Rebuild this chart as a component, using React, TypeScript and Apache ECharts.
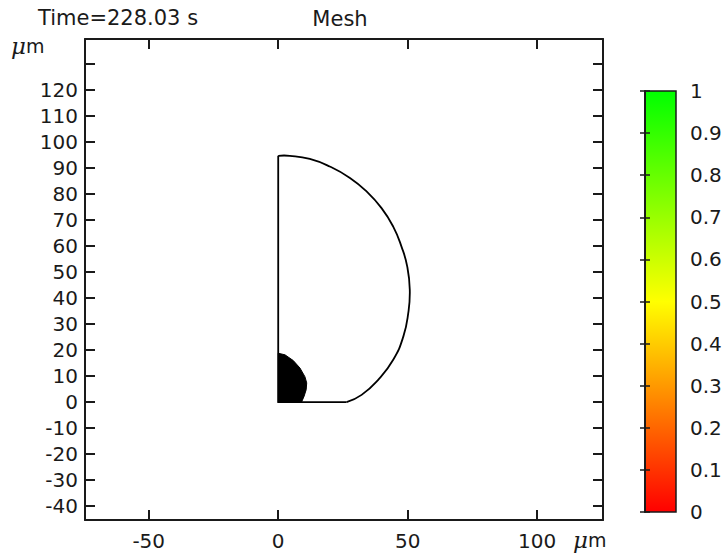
import React, { useEffect, useRef } from "react";
import * as echarts from "echarts";

// Axis ticks and labels
const xTicks = [-50, 0, 50, 100];
const yTicks = [-40, -30, -20, -10, 0, 10, 20, 30, 40, 50, 60, 70, 80, 90, 100, 110, 120, 130];
const yLabels = [-40, -30, -20, -10, 0, 10, 20, 30, 40, 50, 60, 70, 80, 90, 100, 110, 120];
const xRange = [-74.6, 125.4];
const yRange = [-45.3, 139.6];

// Outer domain: arc from bottom-right corner up to top of symmetry axis
const arcX = [26.4, 32.2, 38.6, 44.4, 48.3, 50.2, 50.8, 49.8, 47.6, 44.4, 39.9, 34.1, 27.7, 19.9, 12.2, 4.5, 0];
const arcY = [0, 2.8, 8.6, 16.3, 25.2, 34.2, 43.2, 52.2, 59.8, 67.5, 74.6, 81.0, 86.2, 90.6, 93.5, 94.7, 94.7];
// Straight edges: top of axis -> origin -> bottom-right corner
const edgeX = [0, 0, 26.4];
const edgeY = [94.7, 0, 0];

// Droplet (filled)
const dropX = [0, 0, 2.6, 5.8, 8.4, 10.3, 11.0, 10.8, 10.0, 9.0];
const dropY = [0, 18.8, 18.2, 16.0, 13.1, 9.8, 7.4, 4.8, 2.3, 0];

// Colour bar
const cbarMin = 0;
const cbarMax = 1;
const cbarStops = [
  { offset: 0, color: "#00ff00" },
  { offset: 0.5, color: "#ffff00" },
  { offset: 1, color: "#ff0000" },
];

const titleLeft = "Time=228.03 s";
const titleCenter = "Mesh";

const FONT = "DejaVu Sans";
const INK = "#1a1a1a";

export default function App() {
  const ref = useRef<HTMLDivElement>(null);

  useEffect(() => {
    if (!ref.current) return;
    const chart = echarts.init(ref.current, null, { renderer: "svg" });

    const pts = (xs: number[], ys: number[], api: any) =>
      xs.map((x, i) => api.coord([x, ys[i]]));

    const mainAxisCommon = {
      type: "value",
      splitLine: { show: false },
      axisLine: { show: true, onZero: false, lineStyle: { color: INK, width: 2 } },
    };

    const unitStyle = {
      text: "{a|\u03bc}{b|m}", verticalAlign: "middle",
      rich: {
        a: { fontSize: 23, fontStyle: "italic", fontFamily: "DejaVu Serif", fill: INK, color: INK },
        b: { fontSize: 19, fontFamily: FONT, fill: INK, color: INK },
      },
    };

    const option: any = {
      animation: false,
      backgroundColor: "#ffffff",
      grid: [
        { left: 85, top: 39, width: 518, height: 481, containLabel: false },
        {
          left: 645, top: 91, width: 31, height: 421, show: true,
          backgroundColor: new echarts.graphic.LinearGradient(0, 0, 0, 1, cbarStops),
          borderColor: INK, borderWidth: 1.5,
        },
      ],
      xAxis: [
        {
          ...mainAxisCommon, gridIndex: 0, position: "bottom",
          min: xRange[0], max: xRange[1],
          axisTick: { show: true, inside: true, length: 10, customValues: xTicks, lineStyle: { color: INK, width: 2 } },
          axisLabel: { show: true, customValues: xTicks, margin: 11, fontSize: 20, fontFamily: FONT, color: INK },
        },
        {
          ...mainAxisCommon, gridIndex: 0, position: "top",
          min: xRange[0], max: xRange[1],
          axisTick: { show: true, inside: true, length: 10, customValues: xTicks, lineStyle: { color: INK, width: 2 } },
          axisLabel: { show: false },
        },
        { type: "value", gridIndex: 1, min: 0, max: 1, show: false },
      ],
      yAxis: [
        {
          ...mainAxisCommon, gridIndex: 0, position: "left",
          min: yRange[0], max: yRange[1],
          axisTick: { show: true, inside: true, length: 10, customValues: yTicks, lineStyle: { color: INK, width: 2 } },
          axisLabel: { show: true, customValues: yLabels, margin: 7, fontSize: 20, fontFamily: FONT, color: INK },
        },
        {
          ...mainAxisCommon, gridIndex: 0, position: "right",
          min: yRange[0], max: yRange[1],
          axisTick: { show: true, inside: true, length: 10, customValues: yTicks, lineStyle: { color: INK, width: 2 } },
          axisLabel: { show: false },
        },
        {
          type: "value", gridIndex: 1, position: "right",
          min: cbarMin, max: cbarMax, interval: 0.1,
          splitLine: { show: false },
          axisLine: { show: true, lineStyle: { color: INK, width: 1.5 } },
          axisTick: { show: true, inside: true, length: 5, lineStyle: { color: INK, width: 1.5 } },
          axisLabel: {
            show: true, margin: 14, fontSize: 20, fontFamily: FONT, color: INK,
            formatter: (v: number) => String(Math.round(v * 10) / 10),
          },
        },
        {
          type: "value", gridIndex: 1, position: "left",
          min: cbarMin, max: cbarMax, interval: 0.1,
          splitLine: { show: false },
          axisLine: { show: true, lineStyle: { color: INK, width: 1.5 } },
          axisTick: { show: true, inside: true, length: 5, lineStyle: { color: INK, width: 1.5 } },
          axisLabel: { show: false },
        },
      ],
      series: [
        {
          type: "custom",
          xAxisIndex: 0,
          yAxisIndex: 0,
          data: [[0, 0]],
          silent: true,
          renderItem: (_params: any, api: any) => ({
            type: "group",
            children: [
              {
                type: "polygon",
                shape: { points: pts(dropX, dropY, api) },
                style: { fill: "#000000", stroke: "#000000", lineWidth: 1 },
              },
              {
                type: "polyline",
                shape: { points: pts(edgeX, edgeY, api) },
                style: { fill: "none", stroke: "#000000", lineWidth: 1.8 },
              },
              {
                type: "polyline",
                shape: { points: pts(arcX, arcY, api), smooth: 0.5 },
                style: { fill: "none", stroke: "#000000", lineWidth: 1.8 },
              },
            ],
          }),
        },
        { type: "line", xAxisIndex: 2, yAxisIndex: 2, data: [], silent: true },
      ],
      graphic: [
        {
          type: "text", left: 38, top: 7,
          style: { text: titleLeft, fontSize: 21, fontFamily: FONT, fill: INK },
        },
        {
          type: "text", x: 340, y: 19,
          style: { text: titleCenter, fontSize: 21, fontFamily: FONT, fill: INK, align: "center", verticalAlign: "middle" },
        },
        { type: "text", x: 11, y: 46, style: unitStyle },
        { type: "text", x: 573, y: 540, style: unitStyle },
      ],
    };

    chart.setOption(option);
    return () => chart.dispose();
  }, []);

  return (
    <div
      ref={ref}
      style={{ position: "fixed", left: 0, top: 0, width: 727, height: 555, background: "#fff" }}
    />
  );
}
